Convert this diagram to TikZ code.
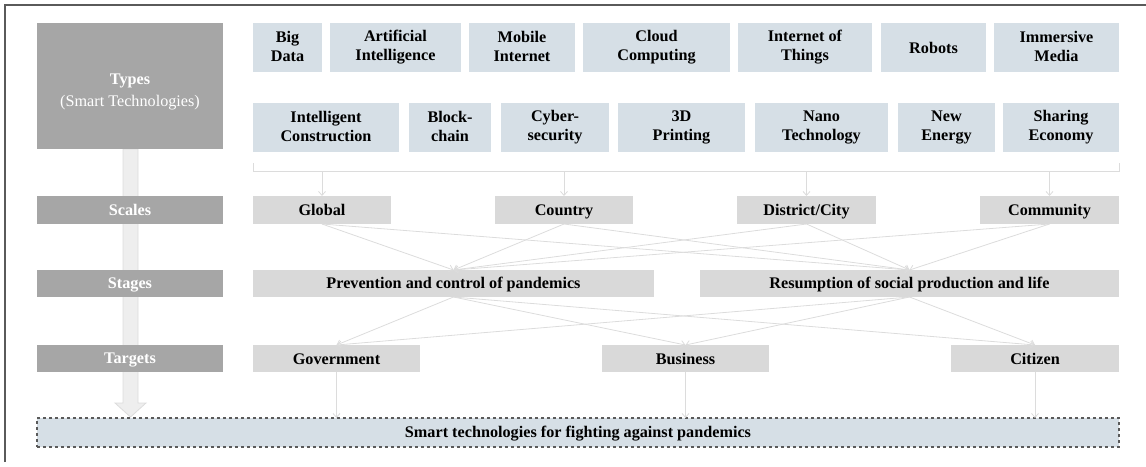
\documentclass[tikz,border=0pt]{standalone}
\usepackage{fontspec}
\setmainfont{Liberation Serif}
\usetikzlibrary{arrows.meta}
\definecolor{labelfill}{HTML}{A6A6A6}
\definecolor{typefill}{HTML}{D6DFE6}
\definecolor{grayfill}{HTML}{D9D9D9}
\definecolor{linkgray}{HTML}{DCDCDC}
\definecolor{framegray}{HTML}{5A5A5A}
\definecolor{arrowfill}{HTML}{EEEEEE}
\newcommand{\boxstrut}{\rule[-3pt]{0pt}{17pt}}
\tikzset{
  base/.style={rectangle, inner sep=0pt, outer sep=0pt, align=center,
    font=\fontsize{16.2}{19}\selectfont\bfseries,
    execute at begin node=\boxstrut, execute at end node=\boxstrut},
  labelbox/.style={base, fill=labelfill, text=white},
  typebox/.style={base, fill=typefill, text=black, minimum height=49pt},
  graybox/.style={base, fill=grayfill, text=black},
  link/.style={draw=linkgray, line width=0.8pt, -{Straight Barb[length=4pt,width=7pt]}},
  plainlink/.style={draw=linkgray, line width=0.8pt},
  bottombox/.style={base, fill=typefill, draw=framegray, dashed, line width=1.1pt},
}
\begin{document}
\begin{tikzpicture}[x=1pt,y=-1pt]
\useasboundingbox (0,0) rectangle (1146,466);
% outer frame (top and left sides visible)
\draw[framegray, line width=2pt] (5,462) -- (5,5) -- (1146,5);
% wide vertical arrow
\draw[fill=arrowfill, draw=linkgray, line width=0.8pt]
  (123,149) -- (123,403) -- (115,403) -- (130.5,417) -- (146,403) -- (138,403) -- (138,149) -- cycle;
% left labels
\node[labelbox, minimum width=186pt, minimum height=126pt] (types) at (130,86)
  {\rule{0pt}{22pt}Types\\[3pt]{\mdseries (Smart Technologies)}};
\node[labelbox, minimum width=186pt, minimum height=28pt] (lscales) at (130,210) {Scales};
\node[labelbox, minimum width=186pt, minimum height=27pt] (lstages) at (130,283.5) {Stages};
\node[labelbox, minimum width=186pt, minimum height=27pt] (ltargets) at (130,358.5) {Targets};
% top row of types
\node[typebox, minimum width=69pt] (bigdata) at (287.5,47.5) {Big\\Data};
\node[typebox, minimum width=131pt] (ai) at (395.5,47.5) {Artificial\\Intelligence};
\node[typebox, minimum width=106pt] (mobile) at (522,47.5) {Mobile\\Internet};
\node[typebox, minimum width=147pt] (cloud) at (656.5,47.5) {Cloud\\Computing};
\node[typebox, minimum width=134pt] (iot) at (805,47.5) {Internet of\\Things};
\node[typebox, minimum width=105pt] (robots) at (933.5,47.5) {Robots};
\node[typebox, minimum width=125pt] (immersive) at (1056.5,47.5) {Immersive\\Media};
% second row of types
\node[typebox, minimum width=146pt] (ic) at (326,127.5) {Intelligent\\Construction};
\node[typebox, minimum width=82pt] (block) at (450,127.5) {Block-\\chain};
\node[typebox, minimum width=108pt] (cyber) at (555,127.5) {Cyber-\\security};
\node[typebox, minimum width=127pt] (print) at (681.5,127.5) {3D\\Printing};
\node[typebox, minimum width=133pt] (nano) at (821.5,127.5) {Nano\\Technology};
\node[typebox, minimum width=97pt] (newen) at (946.5,127.5) {New\\Energy};
\node[typebox, minimum width=116pt] (sharing) at (1061,127.5) {Sharing\\Economy};
% scales
\node[graybox, minimum width=138pt, minimum height=28pt] (global) at (322,210) {Global};
\node[graybox, minimum width=138pt, minimum height=28pt] (country) at (564,210) {Country};
\node[graybox, minimum width=139pt, minimum height=28pt] (district) at (806.5,210) {District/City};
\node[graybox, minimum width=139pt, minimum height=28pt] (community) at (1049.5,210) {Community};
% stages
\node[graybox, minimum width=401pt, minimum height=27pt] (prev) at (453.5,283.5) {Prevention and control of pandemics};
\node[graybox, minimum width=419pt, minimum height=27pt] (resum) at (909.5,283.5) {Resumption of social production and life};
% targets
\node[graybox, minimum width=167pt, minimum height=27pt] (gov) at (336.5,358.5) {Government};
\node[graybox, minimum width=167pt, minimum height=27pt] (bus) at (685.5,358.5) {Business};
\node[graybox, minimum width=168pt, minimum height=27pt] (cit) at (1035,358.5) {Citizen};
% bottom box
\node[bottombox, minimum width=1082pt, minimum height=29pt] (bottom) at (578,432.5)
  {Smart technologies for fighting against pandemics};
% bracket under the types
\coordinate (bl) at (253,163);
\coordinate (bL) at (253,171);
\coordinate (bR) at (1119,171);
\coordinate (br) at (1119,163);
\draw[plainlink] (bl) -- (bL) -- (bR) -- (br);
\foreach \s in {global,country,district,community}
  \draw[link] (\s.north |- bL) -- (\s.north);
% scales to stages
\foreach \s in {global,country,district,community}
  \foreach \t in {prev,resum}
    \draw[link] (\s.south) -- (\t.north);
% stages to targets
\foreach \s in {prev,resum}
  \foreach \t in {gov,bus,cit}
    \draw[link] (\s.south) -- (\t.north);
% targets to bottom
\foreach \t in {gov,bus,cit}
  \draw[link] (\t.south) -- (\t.south |- bottom.north);
\end{tikzpicture}
\end{document}
